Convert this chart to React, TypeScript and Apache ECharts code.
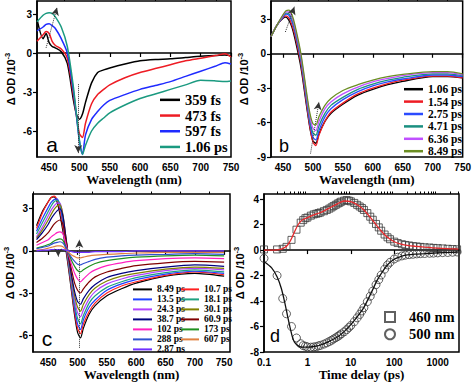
import React, { useEffect, useRef } from 'react';
import * as echarts from 'echarts';

// ---------- Panel a ----------
const WL_A = [430, 440, 445, 450, 455, 460, 470, 480, 490, 495, 500, 505, 510, 520, 530, 540, 550, 575, 600, 625, 650, 675, 700, 725, 740, 750];
const A_359 = [2.6, 1.1, 1.5, 0.8, 0.5, 0.4, 0.1, -0.8, -3.6, -4.7, -5.1, -4.7, -3.8, -2.3, -1.5, -1.3, -1.15, -0.85, -0.6, -0.5, -0.45, -0.35, -0.25, -0.2, -0.15, -0.2];
const A_473 = [0.9, 1.4, 1.65, 1.5, 0.9, 0.6, 0.3, -0.4, -3.2, -4.8, -6.2, -6.5, -5.4, -3.9, -3.2, -2.8, -2.45, -1.9, -1.5, -1.2, -0.9, -0.6, -0.4, -0.2, -0.05, -0.3];
const A_597 = [1.7, 2.0, 2.2, 2.25, 2.1, 1.9, 1.1, 0.0, -2.9, -4.8, -6.8, -7.8, -6.3, -5.1, -4.5, -4.0, -3.65, -3.2, -2.8, -2.5, -2.2, -1.8, -1.4, -1.0, -0.75, -0.85];
const A_106 = [2.4, 2.9, 3.05, 3.1, 3.05, 2.8, 2.0, 0.5, -2.6, -4.7, -6.7, -7.8, -7.1, -6.0, -5.4, -5.0, -4.6, -4.0, -3.5, -3.15, -2.8, -2.45, -2.1, -2.15, -2.2, -2.15];
const A_NAMES = ['359 fs', '473 fs', '597 fs', '1.06 ps'];
const A_COLORS = ['#000000', '#ee1c24', '#1f2bff', '#1b9a80'];

// ---------- Panel b ----------
const WL_B = [430, 440, 450, 455, 460, 465, 470, 480, 490, 495, 500, 505, 510, 520, 530, 550, 575, 600, 625, 650, 700, 725, 750];
const B_106 = [1.5, 2.5, 3.1, 3.2, 2.9, 2.3, 1.3, -1.2, -4.8, -6.5, -7.6, -7.8, -7.0, -5.9, -5.2, -4.4, -3.6, -3.1, -2.7, -2.4, -2.0, -2.0, -2.1];
const B_154 = [1.5, 2.5, 3.15, 3.3, 3.1, 2.5, 1.6, -0.9, -4.6, -6.4, -7.7, -8.0, -7.1, -5.9, -5.1, -4.3, -3.5, -3.0, -2.6, -2.3, -1.95, -1.95, -2.1];
const B_275 = [1.5, 2.5, 3.2, 3.45, 3.35, 2.8, 1.9, -0.6, -4.3, -6.1, -7.3, -7.5, -6.7, -5.5, -4.8, -4.0, -3.3, -2.8, -2.45, -2.2, -1.85, -1.85, -2.0];
const B_471 = [1.5, 2.5, 3.3, 3.55, 3.5, 3.0, 2.1, -0.4, -4.0, -5.8, -6.9, -7.1, -6.3, -5.2, -4.5, -3.8, -3.1, -2.65, -2.3, -2.05, -1.75, -1.75, -1.9];
const B_636 = [1.5, 2.5, 3.35, 3.65, 3.65, 3.2, 2.3, -0.2, -3.8, -5.5, -6.5, -6.7, -5.9, -4.8, -4.2, -3.5, -2.9, -2.45, -2.15, -1.9, -1.65, -1.65, -1.85];
const B_849 = [1.5, 2.5, 3.4, 3.75, 3.8, 3.4, 2.5, 0.0, -3.6, -5.2, -6.1, -6.2, -5.5, -4.5, -3.9, -3.2, -2.7, -2.3, -2.0, -1.8, -1.55, -1.55, -1.75];
const B_NAMES = ['1.06 ps', '1.54 ps', '2.75 ps', '4.71 ps', '6.36 ps', '8.49 ps'];
const B_COLORS = ['#000000', '#ee1c24', '#2b4bff', '#1a8f80', '#c050ff', '#6b8e23'];

// ---------- Panel c ----------
const WL_C = [430, 440, 450, 455, 460, 465, 470, 475, 480, 485, 490, 495, 500, 505, 510, 520, 530, 550, 575, 600, 650, 700, 750];
const C_849 = [1.8, 2.8, 3.5, 3.8, 3.85, 3.5, 2.6, 1.4, 0.1, -1.4, -3.0, -4.6, -5.8, -6.2, -5.5, -4.5, -3.9, -3.2, -2.7, -2.3, -1.8, -1.6, -1.8];
const C_107 = [1.6, 2.7, 3.5, 3.8, 3.9, 3.65, 2.9, 1.7, 0.3, -1.2, -2.8, -4.4, -5.5, -5.9, -5.2, -4.3, -3.7, -3.0, -2.5, -2.2, -1.75, -1.5, -1.7];
const C_135 = [1.4, 2.3, 3.1, 3.45, 3.65, 3.7, 3.2, 2.0, 0.5, -1.0, -2.6, -4.1, -5.2, -5.6, -4.9, -4.0, -3.5, -2.8, -2.35, -2.05, -1.65, -1.45, -1.6];
const C_181 = [1.2, 2.0, 2.8, 3.2, 3.5, 3.6, 3.35, 2.3, 0.7, -0.9, -2.4, -3.8, -4.8, -5.2, -4.6, -3.7, -3.2, -2.6, -2.2, -1.9, -1.55, -1.35, -1.5];
const C_243 = [1.0, 1.7, 2.5, 2.9, 3.2, 3.4, 3.4, 2.5, 0.9, -0.7, -2.2, -3.5, -4.4, -4.7, -4.2, -3.4, -2.9, -2.35, -2.0, -1.75, -1.4, -1.25, -1.35];
const C_301 = [0.9, 1.5, 2.2, 2.6, 2.95, 3.2, 3.3, 2.6, 1.0, -0.6, -2.0, -3.2, -4.0, -4.3, -3.8, -3.1, -2.65, -2.15, -1.8, -1.6, -1.3, -1.15, -1.25];
const C_387 = [0.8, 1.3, 1.9, 2.3, 2.6, 2.85, 3.0, 2.5, 1.0, -0.5, -1.8, -2.9, -3.6, -3.8, -3.4, -2.8, -2.4, -1.9, -1.6, -1.4, -1.15, -1.0, -1.1];
const C_609 = [0.6, 0.9, 1.3, 1.6, 1.9, 2.1, 2.2, 1.9, 0.8, -0.4, -1.4, -2.3, -2.8, -3.0, -2.7, -2.2, -1.85, -1.5, -1.25, -1.05, -0.85, -0.75, -0.8];
const C_102 = [0.4, 0.6, 0.8, 1.0, 1.15, 1.3, 1.35, 1.2, 0.5, -0.3, -1.0, -1.6, -2.0, -2.2, -2.0, -1.6, -1.35, -1.05, -0.85, -0.7, -0.55, -0.5, -0.55];
const C_173 = [0.2, 0.3, 0.45, 0.55, 0.7, 0.8, 0.85, 0.75, 0.3, -0.2, -0.7, -1.1, -1.4, -1.5, -1.35, -1.1, -0.9, -0.7, -0.55, -0.45, -0.35, -0.3, -0.35];
const C_288 = [0.15, 0.25, 0.35, 0.45, 0.55, 0.6, 0.65, 0.55, 0.25, -0.15, -0.5, -0.75, -0.95, -1.0, -0.9, -0.75, -0.6, -0.45, -0.35, -0.3, -0.25, -0.2, -0.25];
const C_607 = [0.05, 0.1, 0.2, 0.25, 0.3, 0.35, 0.35, 0.3, 0.1, -0.1, -0.3, -0.4, -0.5, -0.5, -0.45, -0.35, -0.3, -0.25, -0.2, -0.15, -0.1, -0.1, -0.1];
const C_287 = [0.0, 0.05, 0.05, 0.1, 0.1, 0.1, 0.1, 0.1, 0.05, 0.0, -0.05, -0.1, -0.1, -0.1, -0.1, -0.1, -0.05, -0.05, -0.05, 0.0, 0.0, 0.0, 0.0];
const C_NAMES = ['8.49 ps', '10.7 ps', '13.5 ps', '18.1 ps', '24.3 ps', '30.1 ps', '38.7 ps', '60.9 ps', '102 ps', '173 ps', '288 ps', '607 ps', '2.87 ns'];
const C_COLORS = ['#000000', '#ff2020', '#2040ff', '#20a080', '#b040ff', '#808000', '#000080', '#800000', '#ff20c0', '#209020', '#3050d0', '#e08040', '#7030ff'];

// ---------- Panel d ----------
const T_D = [0.1, 0.2, 0.27, 0.33, 0.43, 0.56, 0.7, 0.8, 0.9, 1.0, 1.2, 1.4, 1.6, 1.8, 2.0, 2.4, 2.8, 3.2, 3.6, 4.0, 4.5, 5.0, 5.5, 6.0, 7.0, 8.0, 9.0, 10, 12, 14, 16, 18, 20, 24, 28, 32, 38, 44, 50, 60, 70, 80, 100, 120, 150, 180, 220, 270, 330, 400, 500, 650, 800, 1000, 1300, 1700, 2200, 2800];
const SQ_460 = [0.05, 0.05, 0.1, 0.25, 0.8, 1.6, 2.15, 2.35, 2.5, 2.55, 2.7, 2.8, 2.85, 2.9, 2.95, 3.05, 3.15, 3.25, 3.35, 3.45, 3.55, 3.65, 3.72, 3.8, 3.88, 3.92, 3.88, 3.82, 3.7, 3.55, 3.42, 3.3, 3.15, 2.9, 2.62, 2.38, 2.05, 1.78, 1.52, 1.22, 1.0, 0.85, 0.66, 0.55, 0.46, 0.4, 0.36, 0.31, 0.28, 0.25, 0.22, 0.2, 0.17, 0.15, 0.13, 0.1, 0.08, 0.06];
const CI_500 = [-0.65, -2.0, -3.8, -5.0, -6.0, -6.9, -7.35, -7.5, -7.55, -7.6, -7.62, -7.6, -7.58, -7.52, -7.48, -7.38, -7.28, -7.18, -7.08, -6.98, -6.88, -6.78, -6.68, -6.58, -6.42, -6.25, -6.08, -5.92, -5.62, -5.32, -5.05, -4.78, -4.52, -4.05, -3.62, -3.22, -2.72, -2.32, -1.96, -1.5, -1.17, -0.96, -0.7, -0.56, -0.46, -0.4, -0.36, -0.33, -0.3, -0.28, -0.27, -0.25, -0.24, -0.22, -0.2, -0.19, -0.17, -0.15];
const FIT_T = [0.1, 0.15, 0.2, 0.25, 0.3, 0.35, 0.4, 0.45, 0.5, 0.6, 0.7, 0.8, 1, 1.5, 2, 3, 5, 7, 10, 15, 20, 30, 40, 50, 70, 100, 150, 200, 300, 500, 1000, 2000, 3000];
const FIT_460 = [0.0, 0.0, 0.02, 0.08, 0.2, 0.4, 0.7, 1.05, 1.4, 1.95, 2.25, 2.4, 2.55, 2.8, 2.95, 3.25, 3.65, 3.85, 3.8, 3.5, 3.15, 2.45, 1.9, 1.5, 1.0, 0.65, 0.45, 0.37, 0.3, 0.23, 0.15, 0.1, 0.07];
const FIT_500 = [-0.9, -1.4, -2.1, -3.0, -4.1, -5.2, -6.1, -6.8, -7.2, -7.5, -7.6, -7.62, -7.62, -7.55, -7.45, -7.2, -6.8, -6.4, -5.85, -5.1, -4.5, -3.3, -2.4, -1.85, -1.15, -0.72, -0.48, -0.38, -0.32, -0.28, -0.22, -0.18, -0.15];

// ---------- ticks ----------
const X_MAJOR = [450, 500, 550, 600, 650, 700, 750];
const X_MINOR = [475, 525, 575, 625, 675, 725];
const X_MINOR_C = [425, 475, 525, 575, 625, 675, 725];
const Y_A = [-6, -3, 0, 3];
const Y_B = [-9, -6, -3, 0, 3];
const Y_C = [-6, -3, 0, 3];
const Y_D = [-8, -6, -4, -2, 0, 2, 4];
const T_MAJOR = [0.1, 1, 10, 100, 1000];
const T_MINOR = [0.2, 0.3, 0.4, 0.5, 0.6, 0.7, 0.8, 0.9, 2, 3, 4, 5, 6, 7, 8, 9, 20, 30, 40, 50, 60, 70, 80, 90, 200, 300, 400, 500, 600, 700, 800, 900, 2000, 3000];

const SANS = 'Liberation Sans, Arial, sans-serif';
const SERIF = 'Liberation Serif, Times New Roman, serif';

const pair = (xs: number[], ys: number[]) => xs.map((x, i) => [x, ys[i]]);

function xMain(gridIndex: number, min: number, max: number, name: string, type: string = 'value', ticks: number[] = X_MAJOR) {
  return {
    type, gridIndex, min, max, name, nameLocation: 'middle', nameGap: 15,
    nameTextStyle: { fontFamily: SERIF, fontWeight: 'bold', fontSize: 13, color: '#000', verticalAlign: 'top' },
    axisLine: { show: true, lineStyle: { color: '#000', width: 1.5 } },
    axisTick: { show: true, customValues: ticks, length: 4, lineStyle: { color: '#000', width: 1.2 } },
    axisLabel: { show: true, customValues: ticks, margin: 5, fontFamily: SANS, fontWeight: 'bold', fontSize: 10, color: '#000', formatter: (v: number) => String(v) },
    splitLine: { show: false },
  };
}
function xMinor(gridIndex: number, min: number, max: number, ticks: number[], type: string = 'value') {
  return {
    type, gridIndex, min, max,
    axisLine: { show: false },
    axisTick: { show: true, customValues: ticks, length: 2.5, lineStyle: { color: '#000', width: 1 } },
    axisLabel: { show: false },
    splitLine: { show: false },
  };
}
function yMain(gridIndex: number, min: number, max: number, ticks: number[], gap: number) {
  return {
    type: 'value', gridIndex, min, max,
    name: '{m|Δ OD /10}{s|-3}', nameLocation: 'middle', nameRotate: 90, nameGap: gap,
    nameTextStyle: {
      color: '#000',
      rich: {
        m: { fontFamily: SANS, fontWeight: 'bold', fontSize: 11, color: '#000' },
        s: { fontFamily: SANS, fontWeight: 'bold', fontSize: 7.5, color: '#000', padding: [0, 0, 7, 0] },
      },
    },
    axisLine: { show: true, lineStyle: { color: '#000', width: 1.5 } },
    axisTick: { show: true, customValues: ticks, length: 4, lineStyle: { color: '#000', width: 1.2 } },
    axisLabel: { show: true, customValues: ticks, margin: 5, fontFamily: SANS, fontWeight: 'bold', fontSize: 10, color: '#000' },
    splitLine: { show: false },
  };
}

function lineSeries(prefix: string, name: string, color: string, xIdx: number, yIdx: number, data: number[][], width: number, extra: any = {}) {
  return {
    type: 'line', name: prefix + ':' + name, xAxisIndex: xIdx, yAxisIndex: yIdx, data,
    showSymbol: false, symbol: 'none', smooth: 0.25, color,
    lineStyle: { color, width }, silent: true, ...extra,
  };
}

const arrowMark = (segs: number[][][]) => ({
  silent: true, symbol: ['none', 'arrow'], symbolSize: [6, 8],
  label: { show: false },
  lineStyle: { type: 'dotted', color: '#333', width: 1 },
  itemStyle: { color: '#000' },
  data: segs.map(([p, q]) => [{ coord: p }, { coord: q }]),
});

const fmt = (n: string) => n.split(':')[1];

export default function App() {
  const ref = useRef<HTMLDivElement>(null);
  useEffect(() => {
    const chart = echarts.init(ref.current!, null, { renderer: 'svg' });
    const A_DATA = [A_359, A_473, A_597, A_106];
    const B_DATA = [B_106, B_154, B_275, B_471, B_636, B_849];
    const C_DATA = [C_849, C_107, C_135, C_181, C_243, C_301, C_387, C_609, C_102, C_173, C_288, C_607, C_287];

    const series: any[] = [];
    A_DATA.forEach((d, i) => series.push(lineSeries('a', A_NAMES[i], A_COLORS[i], 0, 0, pair(WL_A, d), 1.5,
      i === 0 ? { markLine: arrowMark([[[445, 0.4], [463, 3.5]], [[498, -2.4], [498, -7.7]]]) } : {})));
    B_DATA.forEach((d, i) => series.push(lineSeries('b', B_NAMES[i], B_COLORS[i], 2, 1, pair(WL_B, d), 1.3,
      i === 0 ? { markLine: arrowMark([[[454, 1.9], [469, 4.1]], [[496, -8.7], [510, -4.2]]]) } : {})));
    C_DATA.forEach((d, i) => series.push(lineSeries('c', C_NAMES[i], C_COLORS[i], 4, 2, pair(WL_C, d), 1.2,
      i === 0 ? { markLine: arrowMark([[[445, 4.1], [430, 1.6]], [[503, -6.9], [503, 0.8]], [[467, 0.1], [467, -0.4]]]) } : {})));

    series.push({ type: 'scatter', name: 'd:460 nm', xAxisIndex: 6, yAxisIndex: 3, data: pair(T_D, SQ_460), symbol: 'rect', symbolSize: 7,
      itemStyle: { color: 'rgba(255,255,255,0)', borderColor: '#3a3a3a', borderWidth: 1 }, silent: true });
    series.push({ type: 'scatter', name: 'd:500 nm', xAxisIndex: 6, yAxisIndex: 3, data: pair(T_D, CI_500), symbol: 'circle', symbolSize: 8,
      itemStyle: { color: 'rgba(255,255,255,0)', borderColor: '#3a3a3a', borderWidth: 1 }, silent: true });
    series.push(lineSeries('d', 'fit460', '#e8282b', 6, 3, pair(FIT_T, FIT_460), 1.3));
    series.push(lineSeries('d', 'fit500', '#111111', 6, 3, pair(FIT_T, FIT_500), 1.3));

    const legText = (size: number, lh: number) => ({ fontFamily: SERIF, fontWeight: 'bold', fontSize: size, lineHeight: lh, color: '#000' });

    const option: any = {
      animation: false,
      backgroundColor: '#ffffff',
      grid: [
        { left: 37, top: 1, width: 194, height: 156, show: true, borderColor: '#000', borderWidth: 1.5 },
        { left: 271, top: 1, width: 194, height: 156, show: true, borderColor: '#000', borderWidth: 1.5 },
        { left: 33, top: 194, width: 197, height: 158, show: true, borderColor: '#000', borderWidth: 1.5 },
        { left: 264, top: 194, width: 195, height: 158, show: true, borderColor: '#000', borderWidth: 1.5 },
      ],
      xAxis: [
        xMain(0, 430, 750, 'Wavelength (nm)'),
        xMinor(0, 430, 750, X_MINOR),
        xMain(1, 430, 750, 'Wavelength (nm)'),
        xMinor(1, 430, 750, X_MINOR),
        xMain(2, 424, 760, 'Wavelength (nm)'),
        xMinor(2, 424, 760, X_MINOR_C),
        { ...xMain(3, 0.1, 3100, 'Time delay (ps)', 'log', T_MAJOR), logBase: 10 },
        { ...xMinor(3, 0.1, 3100, T_MINOR, 'log'), logBase: 10 },
      ],
      yAxis: [
        yMain(0, -8, 4, Y_A, 19),
        yMain(1, -9, 4.6, Y_B, 20),
        yMain(2, -7.2, 4.05, Y_C, 15),
        yMain(3, -8, 4.4, Y_D, 17),
      ],
      legend: [
        { orient: 'vertical', left: 160, top: 92, padding: 0, itemWidth: 20, itemHeight: 2.5, itemGap: 0, icon: 'rect',
          data: A_NAMES.map(n => 'a:' + n), formatter: fmt, textStyle: legText(14.5, 15.7), selectedMode: false },
        { orient: 'vertical', left: 404, top: 83, padding: 0, itemWidth: 19, itemHeight: 2.5, itemGap: 0, icon: 'rect',
          data: B_NAMES.map(n => 'b:' + n), formatter: fmt, textStyle: legText(11.5, 12.4), selectedMode: false },
        { orient: 'vertical', left: 133, top: 284.4, padding: 0, itemWidth: 19, itemHeight: 2, itemGap: 0, icon: 'rect',
          data: C_NAMES.filter((_, i) => i % 2 === 0).map(n => 'c:' + n), formatter: fmt, textStyle: legText(9.5, 9.8), selectedMode: false },
        { orient: 'vertical', left: 181, top: 284.4, padding: 0, itemWidth: 18, itemHeight: 2, itemGap: 0, icon: 'rect',
          data: C_NAMES.filter((_, i) => i % 2 === 1).map(n => 'c:' + n), formatter: fmt, textStyle: legText(9.5, 9.8), selectedMode: false },
        { orient: 'vertical', left: 384, top: 309.5, padding: 0, itemWidth: 10, itemHeight: 10, itemGap: 2.3,
          data: ['d:460 nm', 'd:500 nm'], formatter: fmt, textStyle: { ...legText(14.5, 15), padding: [0, 0, 0, 9] }, selectedMode: false },
      ],
      graphic: [
        { type: 'text', x: 52, y: 144, style: { text: 'a', fontFamily: SANS, fontSize: 21, fill: '#000', align: 'center', verticalAlign: 'middle' } },
        { type: 'text', x: 284, y: 146, style: { text: 'b', fontFamily: SANS, fontSize: 18, fill: '#000', align: 'center', verticalAlign: 'middle' } },
        { type: 'text', x: 47, y: 338, style: { text: 'c', fontFamily: SANS, fontSize: 21, fill: '#000', align: 'center', verticalAlign: 'middle' } },
        { type: 'text', x: 275, y: 336, style: { text: 'd', fontFamily: SANS, fontSize: 18, fill: '#000', align: 'center', verticalAlign: 'middle' } },
      ],
      series,
    };
    chart.setOption(option);
    return () => chart.dispose();
  }, []);
  return <div ref={ref} style={{ position: 'absolute', left: 0, top: 0, width: 474, height: 383, background: '#fff' }} />;
}
